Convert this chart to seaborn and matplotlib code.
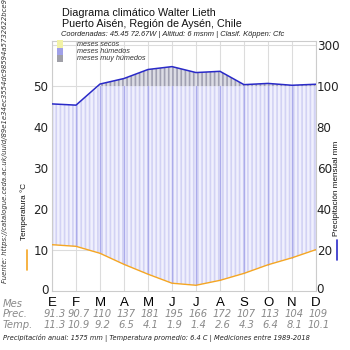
import numpy as np
import pandas as pd
import matplotlib
matplotlib.use("Agg")
import matplotlib.pyplot as plt
import seaborn as sns
from matplotlib.patches import Rectangle
from matplotlib.lines import Line2D
import matplotlib.transforms as mtransforms

months = ['E', 'F', 'M', 'A', 'M', 'J', 'J', 'A', 'S', 'O', 'N', 'D']
prec = [91.3, 90.7, 110, 137, 181, 195, 166, 172, 107, 113, 104, 109]
temp = [11.3, 10.9, 9.2, 6.5, 4.1, 1.9, 1.4, 2.6, 4.3, 6.4, 8.1, 10.1]
prec_labels = ['91.3', '90.7', '110', '137', '181', '195', '166', '172', '107', '113', '104', '109']
temp_labels = ['11.3', '10.9', '9.2', '6.5', '4.1', '1.9', '1.4', '2.6', '4.3', '6.4', '8.1', '10.1']
left_ticks = [0, 10, 20, 30, 40, 50]
right_tick_labels = ['0', '20', '40', '60', '80', '100', '300']

sns.set_theme(style="white")
plt.rcParams['font.family'] = ['DejaVu Sans']
plt.rcParams['hatch.linewidth'] = 1.2

LIB = 'Liberation Sans'
DJV = 'DejaVu Sans'

def scale_p(p):
    p = np.asarray(p, dtype=float)
    return np.where(p <= 100, p / 2.0, 50 + (p - 100) / 20.0)

x = np.arange(len(months))
ps = scale_p(prec)
t = np.array(temp)
df = pd.DataFrame({'x': x, 'temp': t, 'prec': ps})

W = 350.0
fig = plt.figure(figsize=(3.5, 3.5), dpi=100)
bot, top = 291, 41
ax = fig.add_axes([52/W, 1 - bot/W, (316-52)/W, (bot-top)/W])
ax.set_xlim(0, 11)
ax.set_ylim(0, 61)

# grid
for yv in range(10, 70, 10):
    ax.axhline(yv, color='#dcdcdc', lw=0.8, zorder=0)
for xv in x:
    ax.axvline(xv, color='#dcdcdc', lw=0.8, zorder=0)

# humid fill (blue) between temp and min(prec, 50)
upper = np.minimum(ps, 50)
ax.fill_between(x, t, upper, where=upper >= t, facecolor='#f0f0fd', edgecolor='#d2d2f4',
                hatch='||||', linewidth=0, zorder=1)
for xi in x:
    ax.plot([xi, xi], [t[xi], upper[xi]], color='#acacea', lw=1.0, zorder=1.5)
# very humid fill (gray)
ax.fill_between(x, 50, ps, where=ps >= 50, interpolate=True, facecolor='#dcdce4',
                edgecolor='#a0a0b2', hatch='||||', linewidth=0, zorder=1)

sns.lineplot(data=df, x='x', y='temp', ax=ax, color='#f5a623', lw=1.0, zorder=3)
sns.lineplot(data=df, x='x', y='prec', ax=ax, color='#2a2ac8', lw=1.1, zorder=3)

ax.set_xlabel('')
ax.set_ylabel('')
ax.set_xticks(x)
ax.set_xticklabels(months, fontsize=9.5, color='black', family=LIB)
ax.set_yticks(left_ticks)
ax.set_yticklabels([str(v) for v in left_ticks], fontsize=8.6, color='#222222', family=DJV)
ax.tick_params(axis='y', length=0, pad=2.5)
ax.tick_params(axis='x', length=0, pad=4)
for s in ax.spines.values():
    s.set_color('#cccccc')
    s.set_linewidth(0.8)

ax2 = ax.twinx()
ax2.set_ylim(0, 61)
ax2.set_yticks([0, 10, 20, 30, 40, 50, 60])
ax2.set_yticklabels(right_tick_labels, fontsize=8.6, color='#222222', family=DJV)
ax2.tick_params(axis='y', length=0, pad=0.5)
for s in ax2.spines.values():
    s.set_visible(False)
# nudge the right-hand "0" up a little so it clears the month label "D"
tk0 = ax2.yaxis.get_major_ticks()[0]
for lab in (tk0.label1, tk0.label2):
    lab.set_transform(lab.get_transform() + mtransforms.ScaledTranslation(0, 3/100, fig.dpi_scale_trans))
tl0 = ax.yaxis.get_major_ticks()[0]
tl0.label1.set_transform(tl0.label1.get_transform() + mtransforms.ScaledTranslation(0, 2/100, fig.dpi_scale_trans))

# titles
fig.text(62/W, 1 - 13.5/W, 'Diagrama climático Walter Lieth', fontsize=7.75, va='center', ha='left',
         color='#111111', family=LIB)
fig.text(62/W, 1 - 24/W, 'Puerto Aisén, Región de Aysén, Chile', fontsize=7.75, va='center', ha='left',
         color='#111111', family=LIB)
fig.text(61/W, 1 - 35/W, 'Coordenadas: 45.45 72.67W | Altitud: 6 msnm | Clasif. Köppen: Cfc',
         fontsize=5.4, style='italic', va='center', ha='left', color='#222222', family=LIB)

# legend
leg_items = [('#f2f2a6', 'meses secos', 44), ('#a0a0e8', 'meses húmedos', 51.3), ('#a0a0a8', 'meses muy húmedos', 58.7)]
for c, lab, yy in leg_items:
    fig.patches.append(Rectangle((57/W, 1 - (yy + 3.6)/W), 6/W, 7.2/W, transform=fig.transFigure,
                                 facecolor=c, edgecolor='none', zorder=5))
    fig.text(77/W, 1 - yy/W, lab, fontsize=5.2, style='italic', va='center', ha='left',
             color='#333333', zorder=6, family=LIB)

# axis labels with line markers
fig.text(24/W, 1 - 211/W, 'Temperatura °C', rotation=90, fontsize=5.9, va='center', ha='center',
         color='#111111', family=LIB)
fig.add_artist(Line2D([27/W, 27/W], [1 - 250/W, 1 - 270/W], color='#f5a623', lw=1.2))
fig.text(336.5/W, 1 - 188.5/W, 'Precipitación mensual mm', rotation=90, fontsize=5.9, va='center',
         ha='center', color='#111111', family=LIB)
fig.add_artist(Line2D([336.7/W, 336.7/W], [1 - 240/W, 1 - 260/W], color='#2a2ac8', lw=1.2))

# source
fig.text(5/W, 1 - 283/W, 'Fuente: https://catalogue.ceda.ac.uk/uuid/89e1e34ec3554dc98594a5732622bce9',
         rotation=90, rotation_mode='anchor', fontsize=4.95, style='italic', va='center', ha='left',
         color='#333333', family=DJV)

# table rows
trans = mtransforms.blended_transform_factory(ax.transData, fig.transFigure)
fig.text(3/W, 1 - 304/W, 'Mes', fontsize=7.2, style='italic', color='#8a8a8a', va='center', ha='left', family=DJV)
fig.text(3/W, 1 - 314/W, 'Prec.', fontsize=7.2, style='italic', color='#8a8a8a', va='center', ha='left', family=DJV)
fig.text(3/W, 1 - 325.5/W, 'Temp.', fontsize=7.2, style='italic', color='#8a8a8a', va='center', ha='left', family=DJV)
for xi, pl, tl in zip(x, prec_labels, temp_labels):
    ax.text(xi + 0.1, 1 - 314/W, pl, transform=trans, fontsize=7.2, style='italic', color='#8a8a8a',
            va='center', ha='center', family=DJV)
    ax.text(xi + 0.1, 1 - 325.5/W, tl, transform=trans, fontsize=7.2, style='italic', color='#8a8a8a',
            va='center', ha='center', family=DJV)

fig.text(3/W, 1 - 338/W, 'Precipitación anual: 1575 mm | Temperatura promedio: 6.4 C | Mediciones entre 1989-2018',
         fontsize=4.8, style='italic', va='center', ha='left', color='#222222', family=DJV)

fig.savefig('out.png', dpi=100)
